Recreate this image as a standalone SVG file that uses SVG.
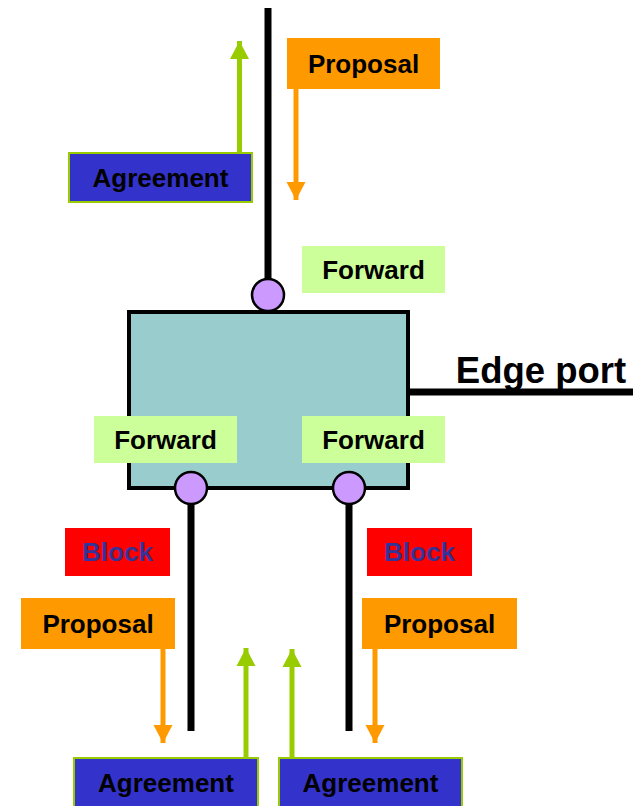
<svg xmlns="http://www.w3.org/2000/svg" width="633" height="806" viewBox="0 0 633 806">
<style>
text{font-family:"Liberation Sans",Arial,sans-serif;font-weight:bold;font-size:26px;text-anchor:middle;fill:#000}
.prop{fill:#FF9900}
.agr{fill:#3333CC;stroke:#99CC00;stroke-width:2}
.fwd{fill:#CCFF99}
.blk{fill:#FF0000}
.blk-t{fill:#333399}
.wire{stroke:#000;stroke-width:7;fill:none}
.port{fill:#CC99FF;stroke:#000;stroke-width:2.5}
.oa{stroke:#FF9900;stroke-width:5;fill:none}
.ga{stroke:#99CC00;stroke-width:5;fill:none}
</style>
<defs>
<marker id="ho" markerUnits="userSpaceOnUse" markerWidth="20" markerHeight="20" refX="18" refY="10" orient="auto"><path d="M0,0.5 L18,10 L0,19.5 Z" fill="#FF9900"/></marker>
<marker id="hg" markerUnits="userSpaceOnUse" markerWidth="20" markerHeight="20" refX="18" refY="10" orient="auto"><path d="M0,0.5 L18,10 L0,19.5 Z" fill="#99CC00"/></marker>
</defs>
<g id="connectors">
<line class="wire" x1="268" y1="8" x2="268" y2="295"/>
<line class="wire" x1="191" y1="488" x2="191" y2="731"/>
<line class="wire" x1="349" y1="488" x2="349" y2="731"/>
<line class="wire" x1="408" y1="392" x2="633" y2="392"/>
<line class="oa" x1="296" y1="89" x2="296" y2="200" marker-end="url(#ho)"/>
<line class="ga" x1="239.5" y1="152" x2="239.5" y2="41" marker-end="url(#hg)"/>
<line class="oa" x1="163" y1="649" x2="163" y2="743" marker-end="url(#ho)"/>
<line class="oa" x1="375" y1="649" x2="375" y2="743" marker-end="url(#ho)"/>
<line class="ga" x1="246" y1="757" x2="246" y2="648" marker-end="url(#hg)"/>
<line class="ga" x1="292" y1="757" x2="292" y2="649" marker-end="url(#hg)"/>
</g>
<g id="bridge"><rect x="129" y="312" width="279" height="176" fill="#99CCCC" stroke="#000" stroke-width="4"/></g>
<g id="edge-port"><text x="541" y="383" style="font-size:36.5px">Edge port</text></g>
<g id="port-top"><circle class="port" cx="268" cy="295" r="16"/></g>
<g id="port-left"><circle class="port" cx="191" cy="488" r="16"/></g>
<g id="port-right"><circle class="port" cx="349" cy="488" r="16"/></g>
<g id="proposal-top"><rect class="prop" x="287" y="38" width="153" height="51"/><text x="363.5" y="73">Proposal</text></g>
<g id="agreement-top"><rect class="agr" x="69" y="153" width="183" height="49"/><text x="160.5" y="187">Agreement</text></g>
<g id="forward-top"><rect class="fwd" x="302" y="246" width="143" height="47"/><text x="373.5" y="279">Forward</text></g>
<g id="forward-left"><rect class="fwd" x="94" y="416" width="143" height="47"/><text x="165.5" y="449">Forward</text></g>
<g id="forward-right"><rect class="fwd" x="302" y="416" width="143" height="47"/><text x="373.5" y="449">Forward</text></g>
<g id="block-left"><rect class="blk" x="65" y="528" width="105" height="48"/><text class="blk-t" x="117.5" y="561">Block</text></g>
<g id="block-right"><rect class="blk" x="367" y="528" width="105" height="48"/><text class="blk-t" x="419.5" y="561">Block</text></g>
<g id="proposal-left"><rect class="prop" x="21" y="598" width="154" height="51"/><text x="98" y="633">Proposal</text></g>
<g id="proposal-right"><rect class="prop" x="362" y="598" width="155" height="51"/><text x="439.5" y="633">Proposal</text></g>
<g id="agreement-left"><rect class="agr" x="74" y="758" width="184" height="52"/><text x="166" y="792">Agreement</text></g>
<g id="agreement-right"><rect class="agr" x="279" y="758" width="183" height="52"/><text x="370.5" y="792">Agreement</text></g>
</svg>
